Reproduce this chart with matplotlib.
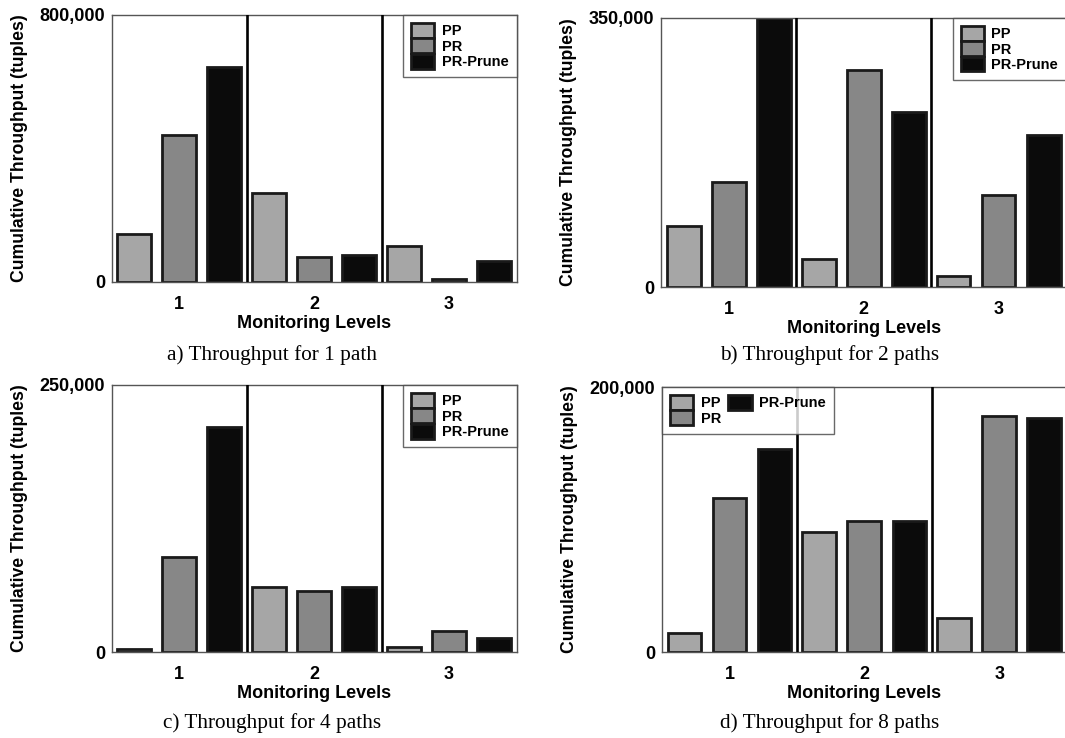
import numpy as np
import matplotlib.pyplot as plt

plt.rcParams['font.family'] = ['Liberation Sans', 'DejaVu Sans']
plt.rcParams['font.weight'] = 'bold'

# Data
levels = ['1', '2', '3']
series = ['PP', 'PR', 'PR-Prune']
colors = ['#a6a6a6', '#878787', '#0b0b0b']

pp_1path = [143000, 266000, 108000]
pr_1path = [441000, 76000, 10000]
prune_1path = [644000, 81000, 62000]

pp_2path = [80000, 36000, 14000]
pr_2path = [137000, 282000, 119000]
prune_2path = [350000, 227000, 197000]

pp_4path = [3000, 61000, 5000]
pr_4path = [88500, 57500, 20000]
prune_4path = [211000, 61000, 12700]

pp_8path = [14500, 90500, 25500]
pr_8path = [116000, 99000, 178500]
prune_8path = [153000, 98700, 177000]

ymax = [800000, 350000, 250000, 200000]
captions = ['a) Throughput for 1 path', 'b) Throughput for 2 paths',
            'c) Throughput for 4 paths', 'd) Throughput for 8 paths']

panels = [
    (pp_1path, pr_1path, prune_1path),
    (pp_2path, pr_2path, prune_2path),
    (pp_4path, pr_4path, prune_4path),
    (pp_8path, pr_8path, prune_8path),
]

# axes rectangles in figure fractions (left, bottom, width, height)
rects = [
    (0.105, 0.618, 0.380, 0.362),
    (0.621, 0.611, 0.380, 0.365),
    (0.105, 0.1165, 0.380, 0.362),
    (0.6216, 0.1165, 0.380, 0.359),
]
caption_pos = [(0.255, 0.519), (0.779, 0.519), (0.255, 0.020), (0.779, 0.020)]

fig = plt.figure(figsize=(10.65, 7.38), dpi=100)

x = np.arange(1, len(levels) + 1)
offsets = [-0.334, 0, 0.334]
width = 0.25

for i, (vals, rect) in enumerate(zip(panels, rects)):
    ax = fig.add_axes(rect)
    for j, v in enumerate(vals):
        ax.bar(x + offsets[j], v, width, color=colors[j], edgecolor='#1a1a1a',
               linewidth=2.0, label=series[j], zorder=2)
    for sep in [1.5, 2.5]:
        ax.axvline(sep, color='black', linewidth=1.9, zorder=3)
    ax.set_xlim(0.5, 3.5)
    ax.set_ylim(0, ymax[i])
    ax.set_xticks(x)
    ax.set_xticklabels(levels)
    ax.set_yticks([0, ymax[i]])
    ax.set_yticklabels(['0', f'{ymax[i]:,}'])
    ax.tick_params(length=0, labelsize=13)
    ax.tick_params(axis='x', pad=10)
    ax.tick_params(axis='y', pad=5)
    for s in ax.spines.values():
        s.set_color('#555555')
        s.set_linewidth(1.0)
    ax.set_ylabel('Cumulative Throughput (tuples)', fontsize=12.7, fontweight='bold')
    ax.yaxis.set_label_coords(-0.208, 0.5)
    ax.set_xlabel('Monitoring Levels', fontsize=13, fontweight='bold')
    ax.xaxis.set_label_coords(0.5, -0.155)
    ax.xaxis.label.set_verticalalignment('center')

    if i == 3:
        leg = ax.legend(loc='upper left', ncol=2, borderaxespad=0, fontsize=10.5,
                        handlelength=1.6, handleheight=1.2, labelspacing=0,
                        handletextpad=0.5, columnspacing=0.5, borderpad=0.55,
                        fancybox=False)
    else:
        leg = ax.legend(loc='upper right', borderaxespad=0, fontsize=10.5,
                        handlelength=1.6, handleheight=1.2, labelspacing=0,
                        handletextpad=0.5, borderpad=0.55, fancybox=False)
    leg.get_frame().set_edgecolor('#444444')
    leg.get_frame().set_linewidth(1.0)
    leg.set_zorder(5)

    fig.text(caption_pos[i][0], caption_pos[i][1], captions[i], ha='center', va='center',
             fontsize=15.3, fontweight='normal', family=['Liberation Serif', 'DejaVu Serif'])

plt.savefig('out.png', dpi=100)
